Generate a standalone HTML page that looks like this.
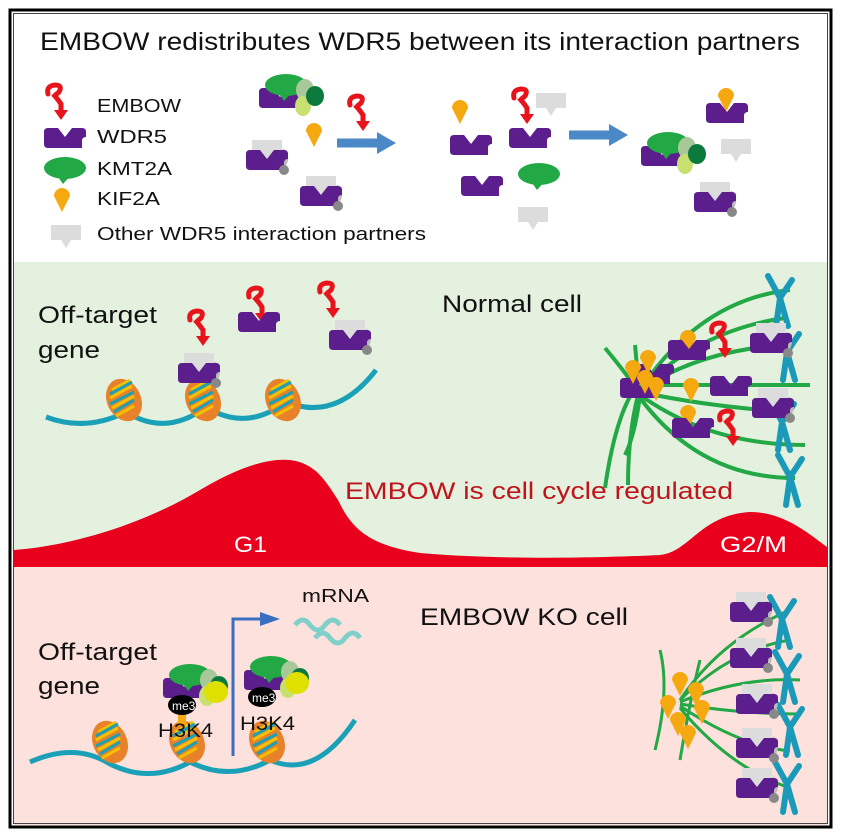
<!DOCTYPE html>
<html><head><meta charset="utf-8"><style>
html,body{margin:0;padding:0;background:#fff;}
svg{display:block;font-family:"Liberation Sans",sans-serif;}
</style></head><body>
<svg width="841" height="839" viewBox="0 0 841 839" xmlns="http://www.w3.org/2000/svg">
<defs>
  <g id="wdr"><path d="M0,4 q0,-4 4,-4 h10 l7,9 l7,-9 h10 q4,0 4,4 v5 q-4,0 -4,4 v7 h-34 q-4,0 -4,-4z" fill="#5b1e8c"/></g>
  <g id="emb"><path d="M4,10 q-2,-8 7,-9 q8,0 4,7 q-4,4 -6,2 q4,4 8,10 l0,8" fill="none" stroke="#e8141c" stroke-width="5" stroke-linecap="round"/><path d="M10,26 l14,0 l-7,10z" fill="#e8141c"/></g>
  <g id="kmt"><ellipse cx="21" cy="11" rx="21" ry="11" fill="#22a845"/><path d="M12,17 l16,0 l-9,10z" fill="#22a845"/></g>
  <g id="kif"><path d="M0,8 a8,8 0 1 1 16,0 l-8,16z" fill="#f5a80f"/></g>
  <g id="oth"><path d="M0,0 h30 v15 h-10 l-5,8 l-5,-8 h-10z" fill="#dcdcdc"/></g>
  <g id="wo"><use href="#oth" x="6" y="-10"/><path d="M36,0 q8,8 0,18" stroke="#bbb" stroke-width="4" fill="none"/><use href="#wdr"/><circle cx="38" cy="20" r="5" fill="#888"/></g>
  <g id="nuc"><ellipse cx="0" cy="0" rx="17" ry="22" transform="rotate(-25)" fill="#e8822a"/><path d="M-12,-10 l18,-10 M-14,-2 l22,-12 M-12,8 l22,-12 M-8,16 l18,-10" stroke="#f5c000" stroke-width="3"/><path d="M-14,-6 l22,-12 M-14,4 l24,-12 M-10,12 l20,-12" stroke="#1aa1b8" stroke-width="3"/></g>
  <g id="chr"><path d="M0,0 l12,22 M12,22 l12,-18 M12,22 l-4,28 M12,22 l8,28" stroke="#1a9ab8" stroke-width="6" stroke-linecap="round" fill="none"/></g>
  <g id="cpx"><use href="#wdr" x="0" y="0"/><use href="#kmt" x="6" y="-14"/><ellipse cx="46" cy="2" rx="9" ry="11" fill="#a8c89a"/><ellipse cx="44" cy="18" rx="8" ry="10" fill="#c8e070"/><ellipse cx="56" cy="8" rx="9" ry="10" fill="#0d7a3d"/></g>
</defs>

<rect x="0" y="0" width="841" height="839" fill="#fff"/>
<rect x="14" y="262" width="813" height="305" fill="#e3f1de"/>
<rect x="14" y="567" width="813" height="258" fill="#fde1dc"/>

<!-- top panel -->
<text x="40" y="50" font-size="25" textLength="760" lengthAdjust="spacingAndGlyphs" fill="#111">EMBOW redistributes WDR5 between its interaction partners</text>
<use href="#emb" x="44" y="84"/>
<use href="#wdr" x="44" y="128"/>
<use href="#kmt" x="44" y="157"/>
<use href="#kif" x="54" y="188"/>
<use href="#oth" x="51" y="225"/>
<g font-size="18" fill="#111">
<text x="97" y="112" textLength="84" lengthAdjust="spacingAndGlyphs">EMBOW</text>
<text x="97" y="143" textLength="70" lengthAdjust="spacingAndGlyphs">WDR5</text>
<text x="97" y="175" textLength="75" lengthAdjust="spacingAndGlyphs">KMT2A</text>
<text x="97" y="205" textLength="63" lengthAdjust="spacingAndGlyphs">KIF2A</text>
<text x="97" y="240" textLength="329" lengthAdjust="spacingAndGlyphs">Other WDR5 interaction partners</text></g>
<use href="#cpx" x="259" y="88"/>
<use href="#kif" x="306" y="123"/>
<use href="#wo" x="246" y="150"/>
<use href="#wo" x="300" y="186"/>
<use href="#emb" x="346" y="95"/>
<path d="M337,143 h42" stroke="#4a88c8" stroke-width="9"/><path d="M377,132 l19,11 l-19,11z" fill="#4a88c8"/>
<use href="#kif" x="452" y="100"/>
<use href="#wdr" x="450" y="135"/>
<use href="#emb" x="510" y="88"/>
<use href="#oth" x="536" y="93"/>
<use href="#wdr" x="509" y="128"/>
<use href="#wdr" x="461" y="176"/>
<use href="#kmt" x="518" y="163"/>
<use href="#oth" x="518" y="207"/>
<path d="M569,135 h42" stroke="#4a88c8" stroke-width="9"/><path d="M609,124 l19,11 l-19,11z" fill="#4a88c8"/>
<use href="#kif" x="718" y="88"/>
<use href="#wdr" x="706" y="103"/>
<use href="#cpx" x="641" y="146"/>
<use href="#oth" x="721" y="139"/>
<use href="#wo" x="694" y="192"/>

<!-- green panel -->
<text x="38" y="323" font-size="24" textLength="119" lengthAdjust="spacingAndGlyphs" fill="#111">Off-target</text>
<text x="38" y="358" font-size="24" textLength="62" lengthAdjust="spacingAndGlyphs" fill="#111">gene</text>
<text x="442" y="312" font-size="24" textLength="140" lengthAdjust="spacingAndGlyphs" fill="#111">Normal cell</text>
<path d="M46,417 q40,15 80,-5 q40,25 80,-5 q40,25 80,-5 q50,20 90,-32" stroke="#1aa1b8" stroke-width="5" fill="none"/>
<use href="#nuc" x="124" y="400"/><use href="#nuc" x="203" y="400"/><use href="#nuc" x="283" y="400"/>
<use href="#emb" x="186" y="310"/>
<use href="#wo" x="178" y="363"/>
<use href="#emb" x="245" y="287"/>
<use href="#wdr" x="238" y="312"/>
<use href="#emb" x="316" y="282"/>
<use href="#wo" x="329" y="330"/>
<!-- spindle -->
<g stroke="#22a845" stroke-width="4" fill="none">
<path d="M640,390 q60,-90 150,-100"/><path d="M640,390 q60,-60 145,-72"/><path d="M640,390 q60,-40 145,-45"/>
<path d="M640,385 h170"/><path d="M640,392 q70,15 150,20"/><path d="M640,395 q70,50 165,50"/><path d="M640,398 q60,80 155,80"/>
<path d="M605,348 q25,30 30,40 q-20,30 -30,100"/><path d="M635,345 q3,30 3,50 q-10,40 -10,90"/><path d="M640,395 q-5,40 -15,60"/>
</g>
<use href="#chr" x="768" y="276"/><use href="#chr" x="775" y="330"/><use href="#chr" x="770" y="400"/><use href="#chr" x="778" y="455"/>
<use href="#wdr" x="620" y="378"/><use href="#wdr" x="632" y="364"/>
<use href="#kif" x="625" y="360"/><use href="#kif" x="640" y="350"/><use href="#kif" x="637" y="370"/><use href="#kif" x="648" y="377"/>
<use href="#kif" x="680" y="330"/><use href="#wdr" x="668" y="340"/>
<use href="#emb" x="708" y="322"/>
<use href="#wo" x="750" y="333"/>
<use href="#wdr" x="710" y="376"/>
<use href="#kif" x="683" y="378"/>
<use href="#wo" x="752" y="398"/>
<use href="#kif" x="680" y="405"/><use href="#wdr" x="672" y="418"/>
<use href="#emb" x="716" y="410"/>
<text x="345" y="499" font-size="24" textLength="388" lengthAdjust="spacingAndGlyphs" fill="#c0141c">EMBOW is cell cycle regulated</text>
<path d="M14,550 C80,545 150,520 200,490 C240,466 270,458 290,460 C315,463 325,480 338,500 C350,525 365,545 420,553 C500,560 600,558 660,555 C690,552 700,515 750,512 C785,512 810,535 827,547 L827,567 L14,567Z" fill="#e8001c"/>
<text x="234" y="552" font-size="22" textLength="33" lengthAdjust="spacingAndGlyphs" fill="#fff">G1</text>
<text x="720" y="552" font-size="22" textLength="67" lengthAdjust="spacingAndGlyphs" fill="#fff">G2/M</text>

<!-- pink panel -->
<text x="302" y="602" font-size="18" textLength="67" lengthAdjust="spacingAndGlyphs" fill="#111">mRNA</text>
<text x="420" y="625" font-size="24" textLength="208" lengthAdjust="spacingAndGlyphs" fill="#111">EMBOW KO cell</text>
<text x="38" y="660" font-size="24" textLength="119" lengthAdjust="spacingAndGlyphs" fill="#111">Off-target</text>
<text x="38" y="694" font-size="24" textLength="62" lengthAdjust="spacingAndGlyphs" fill="#111">gene</text>
<path d="M30,762 q45,-20 80,2 q40,20 80,-2 q40,20 80,-2 q45,20 85,-40" stroke="#1aa1b8" stroke-width="5" fill="none"/>
<use href="#nuc" x="110" y="742"/><use href="#nuc" x="187" y="742"/><use href="#nuc" x="267" y="742"/>
<path d="M233,756 v-137 h30" stroke="#3a6ec0" stroke-width="3" fill="none"/><path d="M260,612 l20,7 l-20,7z" fill="#3a6ec0"/>
<path d="M295,625 q8,-10 15,0 q8,10 15,0 q8,-10 15,0 M315,638 q8,-10 15,0 q8,10 15,0 q8,-10 15,0" stroke="#7fd0c8" stroke-width="5" fill="none"/>
<use href="#cpx" x="163" y="678"/>
<ellipse cx="216" cy="692" rx="12" ry="11" fill="#e0e000"/>
<use href="#cpx" x="244" y="670"/>
<ellipse cx="297" cy="683" rx="12" ry="11" fill="#e0e000"/>
<rect x="178" y="712" width="8" height="12" fill="#f5a80f"/>
<ellipse cx="182" cy="705" rx="14" ry="10" fill="#000"/><text x="172" y="710" font-size="12" fill="#fff">me3</text>
<ellipse cx="262" cy="697" rx="14" ry="10" fill="#000"/><text x="252" y="702" font-size="12" fill="#fff">me3</text>
<text x="158" y="737" font-size="19" textLength="55" lengthAdjust="spacingAndGlyphs" fill="#111">H3K4</text>
<text x="240" y="730" font-size="19" textLength="55" lengthAdjust="spacingAndGlyphs" fill="#111">H3K4</text>
<g stroke="#22a845" stroke-width="3" fill="none">
<path d="M680,700 q40,-60 110,-90"/><path d="M680,700 q50,-50 110,-60"/><path d="M680,702 q60,-25 120,-22"/><path d="M680,704 q60,10 120,10"/><path d="M680,706 q60,40 110,45"/><path d="M680,708 q50,60 110,80"/>
<path d="M660,650 q10,40 -5,100"/><path d="M700,660 q-10,40 -20,100"/>
</g>
<use href="#chr" x="770" y="597"/><use href="#chr" x="775" y="652"/><use href="#chr" x="778" y="705"/><use href="#chr" x="775" y="762"/>
<use href="#kif" x="672" y="672"/><use href="#kif" x="688" y="682"/><use href="#kif" x="660" y="695"/><use href="#kif" x="694" y="700"/><use href="#kif" x="670" y="712"/><use href="#kif" x="680" y="725"/>
<use href="#wo" x="730" y="602"/><use href="#wo" x="730" y="648"/><use href="#wo" x="736" y="694"/><use href="#wo" x="736" y="738"/><use href="#wo" x="736" y="778"/>

<rect x="10" y="10" width="821" height="817" fill="none" stroke="#000" stroke-width="3"/>
<rect x="13.5" y="13.5" width="814" height="810" fill="none" stroke="#444" stroke-width="1"/>
</svg>
</body></html>
